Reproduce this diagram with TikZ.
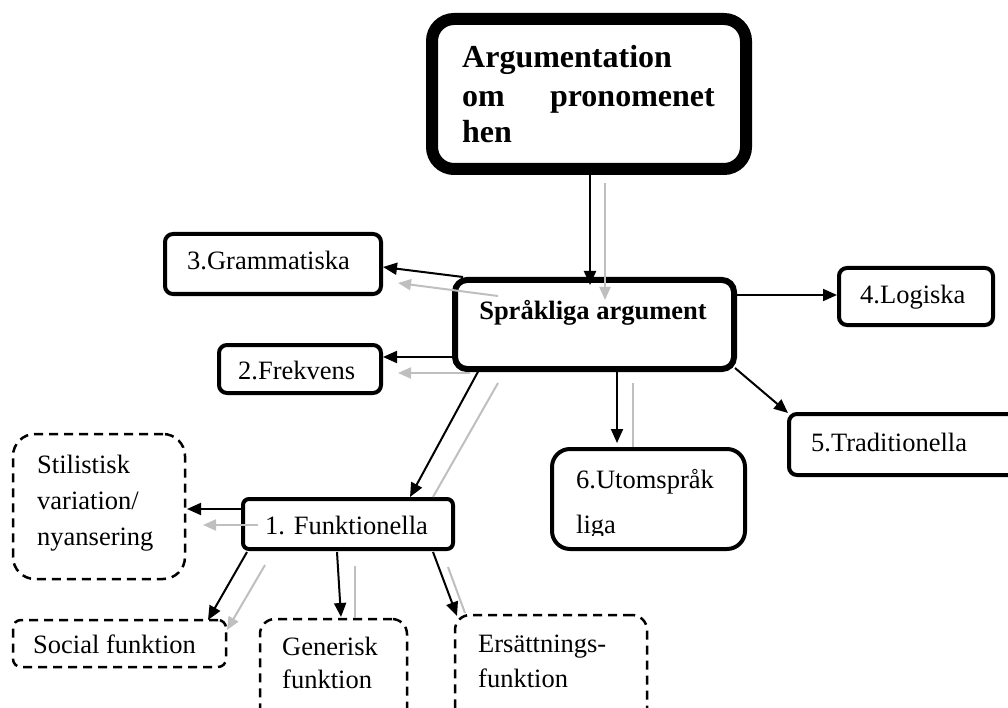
\documentclass[tikz,border=0pt]{standalone}
\usepackage{fontspec}
\setmainfont{Liberation Serif}
\usetikzlibrary{arrows.meta,calc}
\begin{document}
\begin{tikzpicture}[x=1pt,y=-1pt,
  solidbox/.style={draw=black, fill=white, inner sep=0pt},
  dashbox/.style={draw=black, fill=white, inner sep=0pt, line width=2.5pt, dash pattern=on 9pt off 6pt},
  txt/.style={inner sep=0pt, anchor=base west, font=\fontsize{26.5}{32}\selectfont},
  ttl/.style={inner sep=0pt, anchor=base west, font=\fontsize{32}{37}\selectfont\bfseries},
  blk/.style={draw=black, line width=2pt, -{Triangle[length=14pt,width=12pt]}},
  gry/.style={draw=black!25, line width=2pt, -{Triangle[length=13pt,width=11pt]}},
  gryline/.style={draw=black!25, line width=2pt}
]
\useasboundingbox (0,0) rectangle (1008,708);
\clip (0,0) rectangle (1008,708);

% boxes
\node[solidbox, line width=12pt, rounded corners=22pt, minimum width=314pt, minimum height=150pt] (top) at (589,94) {};
\node[solidbox, line width=6pt, rounded corners=12pt, minimum width=279pt, minimum height=89pt] (spr) at (594.5,324.5) {};
\node[solidbox, line width=4pt, rounded corners=8pt, minimum width=216pt, minimum height=60pt] (gram) at (273,264) {};
\node[solidbox, line width=4pt, rounded corners=8pt, minimum width=162pt, minimum height=48pt] (frek) at (300,369) {};
\node[solidbox, line width=4pt, rounded corners=8pt, minimum width=154pt, minimum height=57pt] (logi) at (916,296.5) {};
\node[solidbox, line width=4pt, rounded corners=8pt, minimum width=231pt, minimum height=61pt] (trad) at (904.5,444.5) {};
\node[solidbox, line width=4pt, rounded corners=18pt, minimum width=193pt, minimum height=100pt] (utom) at (648.5,499) {};
\node[solidbox, line width=4pt, rounded corners=6pt, minimum width=210pt, minimum height=50pt] (funk) at (348,524) {};
\node[dashbox, rounded corners=22pt, minimum width=172pt, minimum height=145pt] (stil) at (99,506.5) {};
\node[dashbox, rounded corners=8pt, minimum width=213pt, minimum height=47pt] (soc) at (119.5,643.5) {};
\node[dashbox, rounded corners=15pt, minimum width=147pt, minimum height=111pt] (gen) at (333.5,674.5) {};
\node[dashbox, rounded corners=15pt, minimum width=192pt, minimum height=115pt] (ers) at (551,672.5) {};

% texts
\node[ttl] (t1) at (462,68) {Argumentation};
\node[ttl] (t2) at (462,107) {om};
\node[ttl, anchor=base east] (t3) at (715,107) {pronomenet};
\node[ttl] (t4) at (462,143) {hen};
\node[txt, anchor=base, font=\fontsize{26.5}{32}\selectfont\bfseries] (sprt) at (593,319) {Språkliga argument};
\node[txt] (gramt) at (187,270) {3.Grammatiska};
\node[txt] (frekt) at (238,379) {2.Frekvens};
\node[txt] (logit) at (860,303) {4.Logiska};
\node[txt] (tradt) at (811,451) {5.Traditionella};
\node[txt] (utomt1) at (576,488) {6.Utomspråk};
\begin{scope}
\clip (552,440) rectangle (745,535);
\node[txt] (utomt2) at (576,533) {liga};
\end{scope}
\node[txt] (funkt) at (265,534) {1. Funktionella};
\node[txt] (stilt1) at (37,473) {Stilistisk};
\node[txt] (stilt2) at (37,509) {variation/};
\node[txt] (stilt3) at (37,545) {nyansering};
\node[txt] (soct) at (33,653) {Social funktion};
\node[txt] (gent1) at (282,655) {Generisk};
\node[txt] (gent2) at (282,688) {funktion};
\node[txt] (erst1) at (478,652) {Ersättnings-};
\node[txt] (erst2) at (478,687) {funktion};

% gray connectors
\draw[gry] ($(top)+(16,89)$) -- ($(spr)+(10.5,-24.5)$);
\draw[gry] ($(spr)+(-96.5,-28.5)$) -- ($(gram)+(125,19)$);
\draw[gry] ($(spr)+(-124.5,48.5)$) -- ($(frek)+(98,4)$);
\draw[gryline] ($(spr)+(38.5,58.5)$) -- ($(utom)+(-15.5,-52)$);
\draw[gryline] ($(spr)+(-96.5,58.5)$) -- ($(funk)+(85,-27)$);
\draw[gry] ($(funk)+(-90,1)$) -- ($(stil)+(104,18.5)$);
\draw[gry] ($(funk)+(-83,41)$) -- ($(soc)+(107.5,-13.5)$);
\draw[gryline] ($(funk)+(7,42)$) -- ($(gen)+(21.5,-56.5)$);
\draw[gryline] ($(funk)+(100,43)$) -- ($(ers)+(-86,-59.5)$);

% black connectors
\draw[blk] ($(top)+(1,81)$) -- ($(spr)+(-4.5,-39.5)$);
\draw[blk] ($(spr)+(-131.5,-47.5)$) -- ($(gram)+(110,3)$);
\draw[blk] ($(spr)+(-142.5,32.5)$) -- ($(frek)+(83,-12)$);
\draw[blk] ($(spr)+(142.5,-29.5)$) -- ($(logi)+(-79,-1.5)$);
\draw[blk] ($(spr)+(140.5,43.5)$) -- ($(trad)+(-116.5,-31.5)$);
\draw[blk] ($(spr)+(22.5,47.5)$) -- ($(utom)+(-31.5,-56)$);
\draw[blk] ($(spr)+(-114.5,43.5)$) -- ($(funk)+(62,-27)$);
\draw[blk] ($(funk)+(-106,-15)$) -- ($(stil)+(88,2.5)$);
\draw[blk] ($(funk)+(-101,28)$) -- ($(soc)+(88.5,-23.5)$);
\draw[blk] ($(funk)+(-11,28)$) -- ($(gen)+(7.5,-57.5)$);
\draw[blk] ($(funk)+(85,28)$) -- ($(ers)+(-94,-56.5)$);
\end{tikzpicture}
\end{document}
